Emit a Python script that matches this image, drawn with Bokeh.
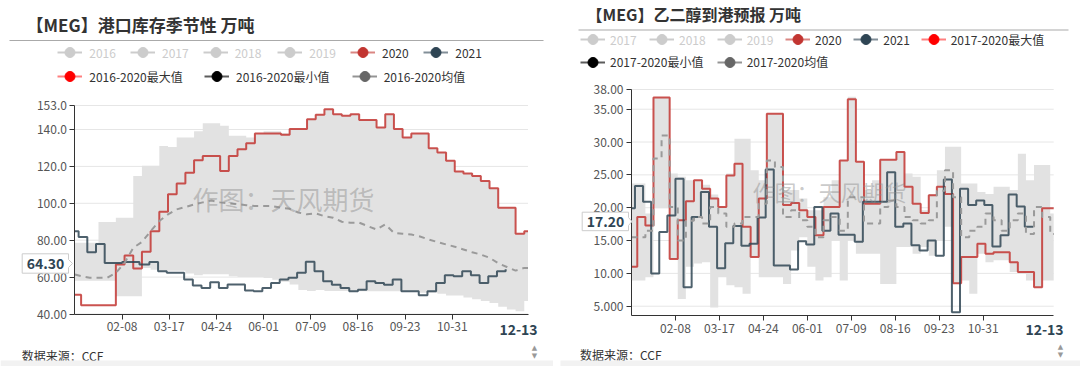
import pandas as pd
from bokeh.plotting import figure
from bokeh.layouts import row
from bokeh.models import (Range1d, FixedTicker, Label, Legend, LegendItem,
                          PolyAnnotation)
from bokeh.embed import file_html
from bokeh.resources import INLINE

FONT = "Noto Sans CJK SC"
NAN = float("nan")

# ---------------- categories (calendar days, 2020 calendar) ----------------
DAYS = [d.strftime("%m-%d") for d in pd.date_range("2020-01-01", "2020-12-31")]
WEEKS_2020 = (["01-01"]
              + [d.strftime("%m-%d") for d in pd.date_range("2020-01-06", "2020-12-28", freq="7D")]
              + ["12-31"])
WEEKS_2021 = (["01-01"]
              + [d.strftime("%m-%d") for d in pd.date_range("2021-01-04", "2021-12-13", freq="7D")])
X_TICK_LABELS = ["02-08", "03-17", "04-24", "06-01", "07-09", "08-16", "09-23", "10-31"]
LATEST_DATE = "12-13"

# ---------------- left chart: port inventory ----------------
INV_TITLE = "【MEG】港口库存季节性 万吨"
INV_Y_TICKS = [40, 60, 80, 100, 120, 140, 153]
INV_Y_LABELS = ["40.00", "60.00", "80.00", "100.0", "120.0", "140.0", "153.0"]
INV_LEGEND_ROW1 = ["2016", "2017", "2018", "2019", "2020", "2021"]
INV_LEGEND_ROW2 = ["2016-2020最大值", "2016-2020最小值", "2016-2020均值"]
INV_2020 = [50.5, 44.8, 44.8, 44.8, 44.8, 66.8, 71.7, 64.6, 73.7, 84.9,
            95.4, 104.9, 110.7, 116.6, 123.3, 125.7, 125.7, 117.5, 125.7, 129.3,
            132.6, 137.8, 137.8, 137.8, 137.1, 140.2, 140.2, 145.6, 148.0, 151.0,
            148.3, 147.4, 148.3, 145.1, 145.1, 141.1, 148.3, 140.2, 135.7, 137.8,
            137.8, 129.9, 127.5, 123.0, 117.2, 116.1, 114.8, 112.1, 108.1, 97.6,
            97.6, 83.5, 84.9, 84.9]
INV_2021 = [84.9, 81.7, 73.5, 78.0, 67.7, 67.7, 68.2, 68.2, 66.8, 68.2,
            63.2, 62.3, 62.3, 58.7, 55.5, 54.1, 57.2, 54.1, 56.0, 56.0,
            52.7, 52.3, 54.1, 56.8, 58.7, 59.6, 62.3, 68.3, 63.2, 57.8,
            55.9, 54.1, 52.3, 53.2, 57.8, 56.8, 55.9, 58.7, 52.3, 52.3,
            50.1, 52.3, 56.8, 61.0, 60.5, 63.2, 61.0, 56.8, 60.5, 63.2, 64.3]
INV_MAX = [78.6, 78.6, 78.6, 89.8, 89.8, 92.2, 92.2, 114.8, 120.3, 120.3,
           131.1, 130.5, 135.7, 135.7, 139.0, 143.4, 143.4, 142.0, 136.6, 136.6,
           135.7, 137.8, 139.0, 139.0, 138.0, 140.2, 140.2, 145.6, 148.0, 151.0,
           148.3, 147.4, 148.3, 145.1, 145.1, 141.1, 148.3, 140.2, 135.7, 137.8,
           137.8, 129.9, 127.5, 123.0, 117.2, 116.1, 114.8, 112.1, 108.1, 97.6,
           97.6, 83.5, 84.9, 84.9]
INV_MIN = [58.0, 58.0, 58.0, 58.0, 58.0, 49.6, 49.6, 49.6, 65.0, 64.0,
           63.5, 63.5, 63.5, 62.0, 61.0, 61.5, 61.5, 61.5, 60.5, 60.0,
           60.0, 60.0, 59.5, 58.5, 57.5, 56.0, 53.0, 52.5, 53.0, 52.5,
           52.5, 52.5, 52.3, 52.3, 52.3, 52.3, 52.3, 52.3, 52.3, 52.3,
           51.5, 51.5, 51.0, 50.0, 50.0, 49.0, 48.0, 47.0, 46.0, 44.0,
           42.5, 41.5, 47.0, 47.0]
INV_AVG = [61.4, 60.5, 59.6, 59.6, 59.6, 62.3, 67.7, 75.9, 79.0, 84.9,
           90.4, 94.0, 96.7, 98.0, 99.4, 100.5, 101.5, 100.5, 100.0, 99.5,
           99.0, 98.5, 98.5, 98.5, 97.6, 97.0, 95.0, 94.0, 94.5, 93.0,
           92.2, 90.0, 89.5, 89.5, 87.6, 85.8, 88.6, 84.0, 83.5, 83.1,
           82.0, 80.4, 79.0, 77.7, 76.5, 75.0, 73.5, 72.2, 70.5, 67.5,
           65.5, 63.5, 65.0, 65.0]

# ---------------- right chart: arrivals forecast ----------------
ARR_TITLE = "【MEG】乙二醇到港预报 万吨"
ARR_Y_TICKS = [5, 10, 15, 20, 25, 30, 35, 38]
ARR_Y_LABELS = ["5.000", "10.00", "15.00", "20.00", "25.00", "30.00", "35.00", "38.00"]
ARR_Y_MIN = 3.58
ARR_LEGEND_ROW1 = ["2017", "2018", "2019", "2020", "2021", "2017-2020最大值"]
ARR_LEGEND_ROW2 = ["2017-2020最小值", "2017-2020均值"]
ARR_2020 = [11.0, 18.6, 17.3, 36.8, 36.8, 12.2, 18.1, 21.0, 24.2, 22.9,
            21.4, 20.1, 24.9, 26.7, 17.1, 12.5, 21.4, 34.3, 34.3, 20.4,
            20.7, 19.6, 18.6, 15.8, 20.1, 20.1, 27.2, 36.5, 27.0, 20.6,
            20.6, 27.3, 27.3, 28.5, 23.2, 20.6, 19.2, 21.9, 23.2, 22.1,
            8.5, 12.5, 12.5, 14.5, 13.0, 13.2, 13.2, 11.7, 10.2, 10.2,
            7.9, 19.9, 19.9, 19.9]
ARR_2021 = [19.9, 23.3, 20.9, 10.0, 16.3, 18.8, 24.4, 7.9, 18.6, 22.4,
            17.1, 10.8, 14.6, 17.2, 14.2, 14.5, 18.5, 25.8, 11.2, 11.2,
            10.6, 14.9, 14.4, 20.1, 16.5, 19.1, 15.9, 15.9, 14.8, 20.9,
            20.9, 20.9, 25.4, 17.1, 17.6, 14.3, 13.5, 15.0, 12.7, 24.3,
            4.1, 22.9, 20.4, 21.1, 20.4, 14.1, 15.8, 22.0, 20.2, 17.1, 17.2]
ARR_MAX = [23.7, 23.7, 19.1, 36.8, 36.8, 25.2, 24.7, 24.2, 24.2, 23.5,
           22.0, 20.1, 25.2, 30.5, 30.5, 25.7, 24.2, 34.3, 34.3, 22.7,
           22.7, 21.4, 19.6, 19.6, 21.6, 24.2, 27.2, 36.9, 27.0, 22.7,
           24.2, 27.3, 27.3, 28.5, 25.2, 24.7, 19.6, 22.1, 25.7, 29.3,
           29.3, 23.7, 23.7, 22.4, 22.1, 23.2, 23.2, 22.7, 28.2, 24.2,
           26.5, 26.5, 19.1, 19.1]
ARR_MIN = [8.9, 8.9, 9.4, 19.9, 19.9, 12.2, 6.1, 11.0, 11.5, 11.7,
           4.8, 9.4, 8.2, 7.9, 6.9, 12.5, 9.4, 9.4, 9.4, 8.4,
           13.5, 15.5, 11.0, 8.9, 9.4, 15.0, 8.9, 15.0, 13.0, 13.0,
           13.0, 8.4, 8.4, 14.0, 14.0, 13.0, 14.0, 12.7, 15.0, 17.1,
           8.4, 8.9, 6.9, 13.0, 11.7, 12.0, 12.0, 10.2, 9.9, 8.9,
           7.9, 8.9, 8.9, 8.9]
ARR_AVG = [15.5, 15.5, 16.5, 27.5, 31.0, 20.1, 15.0, 18.0, 18.6, 17.6,
           20.1, 19.1, 17.1, 17.6, 18.6, 18.6, 20.6, 27.2, 26.2, 18.6,
           19.6, 18.1, 17.1, 15.5, 18.1, 18.6, 16.5, 21.6, 21.6, 17.6,
           17.6, 20.1, 21.1, 20.1, 18.6, 18.1, 17.6, 18.1, 22.6, 25.7,
           21.6, 15.5, 16.5, 17.1, 19.1, 18.1, 16.5, 18.1, 19.1, 16.0,
           20.1, 18.6, 16.0, 16.0]

WATERMARK = "作图：天风期货"
SOURCE = "数据来源：CCF"

RED = "#c23531"
NAVY = "#2f4554"
BAND = "#e2e2e2"
GREYED = "#cccccc"
H = 366   # canvas height (page y of the canvas bottom)

x20 = [DAYS.index(d) for d in WEEKS_2020]
x21 = [DAYS.index(d) for d in WEEKS_2021]
tick_pos = [DAYS.index(d) for d in X_TICK_LABELS]
X_LAST = len(DAYS) - 1


def make_fig(width, xr, yr, yticks, ylabels, ymin, ymax):
    p = figure(width=width, height=H, x_range=Range1d(*xr), y_range=Range1d(*yr),
               output_backend="svg", toolbar_location=None,
               min_border_left=0, min_border_right=0, min_border_top=0, min_border_bottom=0)
    p.outline_line_color = None
    p.background_fill_color = "white"
    p.border_fill_color = "white"
    p.xgrid.visible = False
    p.ygrid.visible = False
    # horizontal split lines, limited to the plotting area
    p.segment(x0=[0] * len(yticks), x1=[X_LAST] * len(yticks), y0=yticks, y1=yticks,
              line_color="#e6e6e6", line_width=1)
    p.yaxis.ticker = FixedTicker(ticks=yticks)
    p.yaxis.major_label_overrides = dict(zip(yticks, ylabels))
    p.yaxis.fixed_location = 0
    p.yaxis.bounds = (ymin, ymax)
    p.xaxis.ticker = FixedTicker(ticks=tick_pos)
    p.xaxis.major_label_overrides = dict(zip(tick_pos, X_TICK_LABELS))
    p.xaxis.fixed_location = ymin
    p.xaxis.bounds = (0, X_LAST)
    for ax in (p.xaxis[0], p.yaxis[0]):
        ax.axis_line_color = "#333333"
        ax.major_tick_line_color = "#333333"
        ax.minor_tick_line_color = None
        ax.major_tick_in = 0
        ax.major_tick_out = 5
        ax.major_label_text_font = FONT
        ax.major_label_text_font_size = "12px"
        ax.major_label_text_color = "#555555"
        ax.major_label_standoff = 3
    return p


class Panel:
    def __init__(self, p, ox):
        self.p, self.ox = p, ox

    def text(self, s, X, Y, size="12px", color="#333333", bold=False, align="left",
             alpha=1.0, font=FONT):
        self.p.add_layout(Label(x=X - self.ox, y=H - Y, x_units="screen",
                                y_units="screen", text=s, text_font=font,
                                text_font_size=size, text_color=color,
                                text_font_style="bold" if bold else "normal",
                                text_align=align, text_baseline="middle", text_alpha=alpha))

    def poly(self, xs, ys, fill, line=None):
        self.p.add_layout(PolyAnnotation(xs=[x - self.ox for x in xs],
                                         ys=[H - y for y in ys],
                                         xs_units="screen", ys_units="screen",
                                         fill_color=fill, fill_alpha=1.0,
                                         line_color=line, line_width=1,
                                         line_alpha=1.0 if line else 0))

    def legend(self, label, X, Y, text_color, line_color, line_alpha, dot_color, standoff):
        # legend-only renderers: NaN values, so nothing is drawn inside the plot
        blank = [NAN] * len(x20)
        r1 = self.p.line(x=x20, y=blank, line_color=line_color, line_width=2,
                         line_alpha=line_alpha)
        r2 = self.p.scatter(x=x20, y=blank, marker="circle", size=10, fill_color=dot_color,
                            line_color=dot_color)
        lg = Legend(items=[LegendItem(label=label, renderers=[r1, r2])],
                    location=(X - self.ox, H - Y - 13), orientation="horizontal",
                    padding=0, margin=0, spacing=0, glyph_width=25, glyph_height=26,
                    label_standoff=standoff, label_text_font=FONT, label_text_font_size="12px",
                    label_text_color=text_color, label_text_baseline="middle",
                    background_fill_alpha=0, border_line_alpha=0)
        self.p.add_layout(lg, "center")


# ======================= LEFT =======================
pl = make_fig(553, (-59.93, 385.54), (11.55, 209.91), INV_Y_TICKS, INV_Y_LABELS,
              INV_Y_TICKS[0], INV_Y_TICKS[-1])
L = Panel(pl, 0)
pl.varea_step(x=x20, y1=INV_MIN, y2=INV_MAX, step_mode="after", fill_color=BAND)
L.text(WATERMARK, 192, 198, size="26px", color="#8a8a8a", alpha=0.45)
pl.step(x20, INV_2020, mode="after", line_color=RED, line_width=2, line_alpha=0.85)
pl.step(x21, INV_2021, mode="after", line_color=NAVY, line_width=2, line_alpha=0.85)
pl.line(x20, INV_AVG, line_color="#9a9a9a", line_width=2, line_dash="6 5")

L.text(INV_TITLE, 26, 23.5, size="17px", bold=True, color="#333333")
L.poly([9, 543, 543, 9], [39.5, 39.5, 40.5, 40.5], "#aaaaaa")
row1_x = [57.3, 130, 202.7, 277.3, 350, 423.3]
for i, lab in enumerate(INV_LEGEND_ROW1):
    if i < 4:
        L.legend(lab, row1_x[i], 52.3, GREYED, GREYED, 1.0, GREYED, 7)
    elif i == 4:
        L.legend(lab, row1_x[i], 52.3, "#333333", RED, 0.6, RED, 7)
    else:
        L.legend(lab, row1_x[i], 52.3, "#333333", NAVY, 0.6, NAVY, 7)
L.legend(INV_LEGEND_ROW2[0], 57.3, 76, "#333333", "#ff0000", 0.5, "#ff0000", 7)
L.legend(INV_LEGEND_ROW2[1], 204, 76, "#333333", "#333333", 0.8, "#000000", 7)
L.legend(INV_LEGEND_ROW2[2], 351.7, 76, "#333333", "#666666", 0.7, "#666666", 7)

L.poly([21.7, 68, 68, 72, 68, 68, 21.7], [253.3, 253.3, 259, 263, 267, 272.7, 272.7],
       "white", "#cccccc")
L.text("%.2f" % INV_2021[-1], 45, 263, size="14px", bold=True, color=NAVY, align="center")
L.text(LATEST_DATE, 518, 328.5, size="14px", bold=True, color=NAVY, align="center")
L.text(SOURCE, 21.3, 355, size="12px", color="#333333")
L.text("▲", 534, 347, size="7px", color="#999999", align="center", font="DejaVu Sans")
L.text("▼", 534, 355, size="7px", color="#999999", align="center", font="DejaVu Sans")
L.poly([0, 553, 553, 0], [360, 360, 366, 366], "#f2f2f2")

# ======================= RIGHT =======================
pr = make_fig(527, (-67.43, 388.17), (-4.18, 51.553), ARR_Y_TICKS, ARR_Y_LABELS,
              ARR_Y_MIN, ARR_Y_TICKS[-1])
R = Panel(pr, 553)
pr.varea_step(x=x20, y1=ARR_MIN, y2=ARR_MAX, step_mode="after", fill_color=BAND)
R.text(WATERMARK, 752, 190, size="22px", color="#8a8a8a", alpha=0.45)
pr.step(x20, ARR_2020, mode="after", line_color=RED, line_width=2, line_alpha=0.85)
pr.step(x21, ARR_2021, mode="after", line_color=NAVY, line_width=2, line_alpha=0.85)
pr.step(x20, ARR_AVG, mode="after", line_color="#9a9a9a", line_width=2, line_dash="6 5")

R.text(ARR_TITLE, 586, 13.5, size="16px", bold=True, color="#333333")
R.poly([578, 1068, 1068, 578], [29, 29, 30, 30], "#aaaaaa")
rrow1_x = [580, 649, 716.7, 785, 853.3, 920.7]
for i, lab in enumerate(ARR_LEGEND_ROW1):
    if i < 3:
        R.legend(lab, rrow1_x[i], 39.3, GREYED, GREYED, 1.0, GREYED, 5)
    elif i == 3:
        R.legend(lab, rrow1_x[i], 39.3, "#333333", RED, 0.6, RED, 5)
    elif i == 4:
        R.legend(lab, rrow1_x[i], 39.3, "#333333", NAVY, 0.6, NAVY, 5)
    else:
        R.legend(lab, rrow1_x[i], 39.3, "#333333", "#ff0000", 0.5, "#ff0000", 5)
R.legend(ARR_LEGEND_ROW2[0], 580, 61.7, "#333333", "#333333", 0.8, "#000000", 5)
R.legend(ARR_LEGEND_ROW2[1], 716.7, 61.7, "#333333", "#666666", 0.7, "#666666", 5)

R.poly([581.7, 628, 628, 631.5, 628, 628, 581.7], [211.7, 211.7, 217, 221, 225, 230.2, 230.2],
       "white", "#cccccc")
R.text("%.2f" % ARR_2021[-1], 605, 221, size="14px", bold=True, color=NAVY, align="center")
R.text(LATEST_DATE, 1044, 329, size="14px", bold=True, color=NAVY, align="center")
R.text(SOURCE, 579.6, 353.5, size="12px", color="#333333")
R.text("▲", 1060, 346, size="7px", color="#999999", align="center", font="DejaVu Sans")
R.text("▼", 1060, 354, size="7px", color="#999999", align="center", font="DejaVu Sans")
R.poly([560, 1080, 1080, 560], [360, 360, 366, 366], "#f2f2f2")

layout = row(pl, pr)
open("out.html", "w").write(file_html(layout, INLINE))
